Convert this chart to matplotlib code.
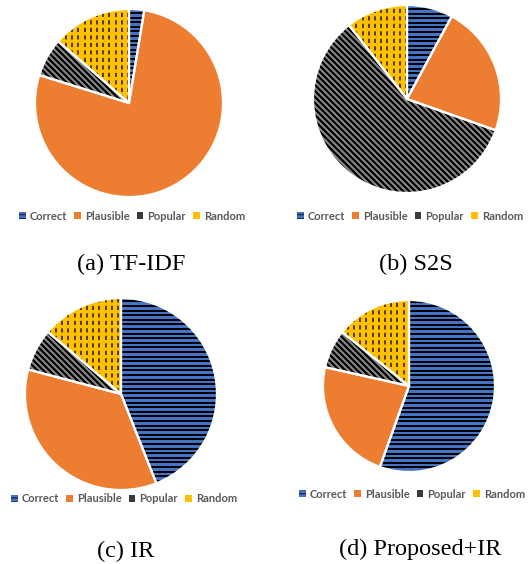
import matplotlib
matplotlib.use("Agg")
import matplotlib.pyplot as plt
import numpy as np
from matplotlib.patches import Patch, Wedge
from matplotlib.collections import LineCollection

W, H = 530, 564
fig = plt.figure(figsize=(W / 100, H / 100), dpi=100)
plt.rcParams["lines.scale_dashes"] = False

categories = ["Correct", "Plausible", "Popular", "Random"]
captions = ["(a) TF-IDF", "(b) S2S", "(c) IR", "(d) Proposed+IR"]
tfidf = [2.6, 77.2, 6.6, 13.6]
s2s = [7.9, 22.5, 59.0, 10.6]
ir = [44.0, 35.1, 7.1, 13.8]
proposed_ir = [55.5, 23.0, 7.3, 14.2]
series = [tfidf, s2s, ir, proposed_ir]

colors = ["#4472C4", "#ED7D31", "#8A8A8A", "#FFC000"]

# layout (pixels): pie center x, center y, radius; legend centre; caption centre
layout = [
    dict(cx=129, cy=103, r=94, ly=216, lx=132, tx=131, ty=264),
    dict(cx=407, cy=99, r=94, ly=216, lx=410, tx=416, ty=264),
    dict(cx=121, cy=394, r=96, ly=499, lx=124, tx=126, ty=551),
    dict(cx=409, cy=386, r=86, ly=494, lx=412, tx=420, ty=549),
]

PT = 0.72  # points per pixel at dpi 100


def px_axes(x0, y0, w, h):
    return fig.add_axes([x0 / W, 1 - (y0 + h) / H, w / W, h / H])


for vals, lay, cap in zip(series, layout, captions):
    r = lay["r"]
    ax = px_axes(lay["cx"] - r, lay["cy"] - r, 2 * r, 2 * r)
    wedges, _ = ax.pie(vals, colors=colors, startangle=90, counterclock=False,
                       radius=1, wedgeprops=dict(edgecolor="none", linewidth=0))
    # horizontal stripes on "Correct"
    ys = np.arange(-1, 1, 4.6 / r)
    hl = ax.hlines(ys, -1, 1, colors="black", linewidths=2.0 * PT)
    hl.set_clip_path(wedges[0])
    # diagonal stripes on "Popular"
    d = 6.0 / r
    offs = np.arange(-3, 3, d)
    segs = [[(o - 1.5, 1.5), (o + 1.5, -1.5)] for o in offs]
    dl = LineCollection(segs, colors="black", linewidths=2.2 * PT)
    ax.add_collection(dl)
    dl.set_clip_path(wedges[2])
    # dashed vertical pattern on "Random"
    xs = np.arange(-1, 1, 6.2 / r)
    vl = ax.vlines(xs, -1, 1, colors="#2a1f00", linewidths=1.6 * PT,
                   linestyles=[(0, (4.2 * PT, 3.3 * PT))])
    vl.set_clip_path(wedges[3])
    # white separators on top
    for w_ in wedges:
        ax.add_patch(Wedge(w_.center, w_.r, w_.theta1, w_.theta2,
                           facecolor="none", edgecolor="white", linewidth=1.6,
                           zorder=5))
    ax.set_xlim(-1, 1)
    ax.set_ylim(-1, 1)
    ax.set_aspect("equal")
    ax.axis("off")

    handles = [Patch(facecolor="#4472C4", hatch="----", edgecolor="#1f2a44", linewidth=0),
               Patch(facecolor="#ED7D31", edgecolor="none"),
               Patch(facecolor="#3a3a3a", edgecolor="none"),
               Patch(facecolor="#FFC000", edgecolor="none")]
    fig.legend(handles, categories, loc="center", ncol=4,
               bbox_to_anchor=(lay["lx"] / W, 1 - lay["ly"] / H),
               frameon=False, handlelength=0.6, handleheight=0.6,
               handletextpad=0.35, columnspacing=0.65, borderaxespad=0,
               prop=dict(family="Lato", weight="bold", size=8.0),
               labelcolor="#595959")
    fig.text(lay["tx"] / W, 1 - lay["ty"] / H, cap, ha="center", va="center",
             family="Liberation Serif", fontsize=17.5)

fig.savefig("out.png", dpi=100)
